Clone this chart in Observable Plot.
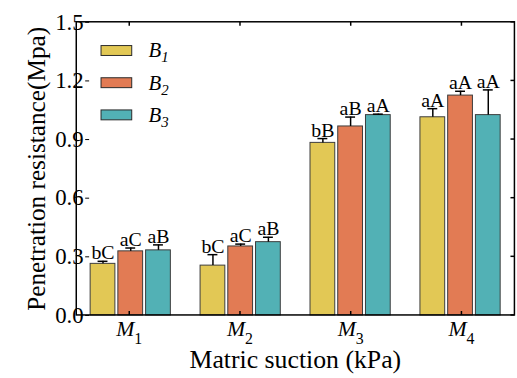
<!DOCTYPE html>
<html><head><meta charset="utf-8">
<script src="https://cdn.jsdelivr.net/npm/d3@7"></script>
<script src="https://cdn.jsdelivr.net/npm/@observablehq/plot@0.6"></script>
<style>
html,body{margin:0;padding:0;overflow:hidden;background:#fff;}
#wrap{position:relative;width:517px;height:378px;overflow:hidden;}
#wrap svg{display:block;}
#wrap svg, #wrap svg text, #wrap svg tspan{font-family:"Liberation Serif", serif !important;}
</style></head><body><div id="wrap"></div>
<script>
const groups = ["M1", "M2", "M3", "M4"];
const groupSub = ["1", "2", "3", "4"];
const series = ["B1", "B2", "B3"];
const seriesSub = ["1", "2", "3"];
const b1 = [0.264, 0.255, 0.883, 1.014];
const b2 = [0.328, 0.353, 0.967, 1.125];
const b3 = [0.333, 0.375, 1.025, 1.025];
const e1 = [0.013, 0.056, 0.022, 0.044];
const e2 = [0.017, 0.012, 0.048, 0.022];
const e3 = [0.028, 0.025, 0.005, 0.129];
const l1 = ["bC", "bC", "bB", "aA"];
const l2 = ["aC", "aC", "aB", "aA"];
const l3 = ["aB", "aB", "aA", "aA"];
const colors = ["#E2C855", "#E27B54", "#52B1B5"];
const yTicks = [0, 0.3, 0.6, 0.9, 1.2, 1.5];
const yLabel = "Penetration resistance(Mpa)";
const xLabel = "Matric suction (kPa)";

const vals = [b1, b2, b3], errs = [e1, e2, e3], labs = [l1, l2, l3];
const data = [];
groups.forEach((g, i) => series.forEach((s, j) => {
  data.push({group: g, series: s, value: vals[j][i], err: errs[j][i], top: vals[j][i] + errs[j][i], label: labs[j][i]});
}));

const W = 522, H = 378, ML = 77, MR = 2.6, MT = 22, MB = 60;
const font = "Liberation Serif";

const plot = Plot.plot({
  width: W, height: H,
  marginLeft: ML, marginRight: MR, marginTop: MT, marginBottom: MB,
  style: {fontFamily: font, background: "white", color: "black"},
  fx: {domain: groups, paddingInner: 0.253, paddingOuter: 0.105, label: null, axis: null},
  x: {domain: series, paddingInner: 0.1, paddingOuter: 0, axis: null},
  y: {domain: [0, 1.5], label: null},
  color: {domain: series, range: colors},
  marks: [
    Plot.barY(data, {fx: "group", x: "series", y: "value", fill: "series", stroke: "#3c3c3c", strokeWidth: 1}),
    Plot.ruleX(data, {fx: "group", x: "series", y1: "value", y2: "top", stroke: "black", strokeWidth: 1.5}),
    Plot.tickY(data, {fx: "group", x: "series", y: "top", stroke: "black", strokeWidth: 1.5, insetLeft: 7.5, insetRight: 7.5}),
    Plot.text(data, {fx: "group", x: "series", y: "top", text: "label", dy: -2, lineAnchor: "bottom", fontSize: 20, fill: "black"}),
    Plot.axisY({ticks: yTicks, tickFormat: ".1f", tickSize: 4, tickPadding: 2, fontSize: 23, label: yLabel, labelAnchor: "center", labelArrow: false, labelOffset: 63})
  ]
});

document.getElementById("wrap").appendChild(plot);

const svg = d3.select(plot);
const fxS = plot.scale("fx");
const yS = plot.scale("y");
const fx = d3.scaleBand(fxS.domain, fxS.range || [ML, W - MR]).paddingInner(fxS.paddingInner ?? 0.253).paddingOuter(fxS.paddingOuter ?? 0.105).align(fxS.align ?? 0.5);
const y = v => yS.apply(v);
const x0 = ML, x1 = W - MR, yTop = y(1.5), yBot = y(0);
const cx = g => fx(g) + fx.bandwidth() / 2;

// y-axis label styling
svg.selectAll("text").filter(function () { return this.textContent === yLabel; })
  .attr("font-size", 25.5);

const g = svg.append("g").attr("stroke", "black").attr("stroke-width", 1.5).attr("fill", "none");
g.append("rect").attr("x", x0).attr("y", yTop).attr("width", x1 - x0).attr("height", yBot - yTop);
groups.forEach(k => {
  g.append("line").attr("x1", cx(k)).attr("x2", cx(k)).attr("y1", yTop).attr("y2", yTop + 4);
  g.append("line").attr("x1", cx(k)).attr("x2", cx(k)).attr("y1", yBot).attr("y2", yBot - 4);
});
yTicks.forEach(t => {
  g.append("line").attr("x1", x1).attr("x2", x1 - 4).attr("y1", y(t)).attr("y2", y(t));
});

// fx tick labels with subscripts
const tl = svg.append("g").attr("font-family", font).attr("fill", "black").attr("text-anchor", "middle");
groups.forEach((k, i) => {
  const t = tl.append("text").attr("x", cx(k)).attr("y", yBot + 21).attr("font-size", 22);
  t.append("tspan").attr("font-style", "italic").text(k.slice(0, 1));
  t.append("tspan").attr("font-size", 16).attr("dy", 8).text(groupSub[i]);
});
tl.append("text").attr("x", (x0 + x1) / 2).attr("y", 372).attr("font-size", 26).text(xLabel);

// legend
const lg = svg.append("g").attr("font-family", font).attr("fill", "black").attr("text-anchor", "start");
series.forEach((s, j) => {
  const yy = 46 + j * 32.5;
  lg.append("rect").attr("x", 102).attr("y", yy).attr("width", 31).attr("height", 10)
    .attr("fill", colors[j]).attr("stroke", "#2a2a2a").attr("stroke-width", 1);
  const t = lg.append("text").attr("x", 150).attr("y", yy + 12).attr("font-size", 21).attr("font-style", "italic");
  t.append("tspan").text(s.slice(0, 1));
  t.append("tspan").attr("font-size", 15).attr("dy", 5).text(seriesSub[j]);
});
</script>
</body></html>
